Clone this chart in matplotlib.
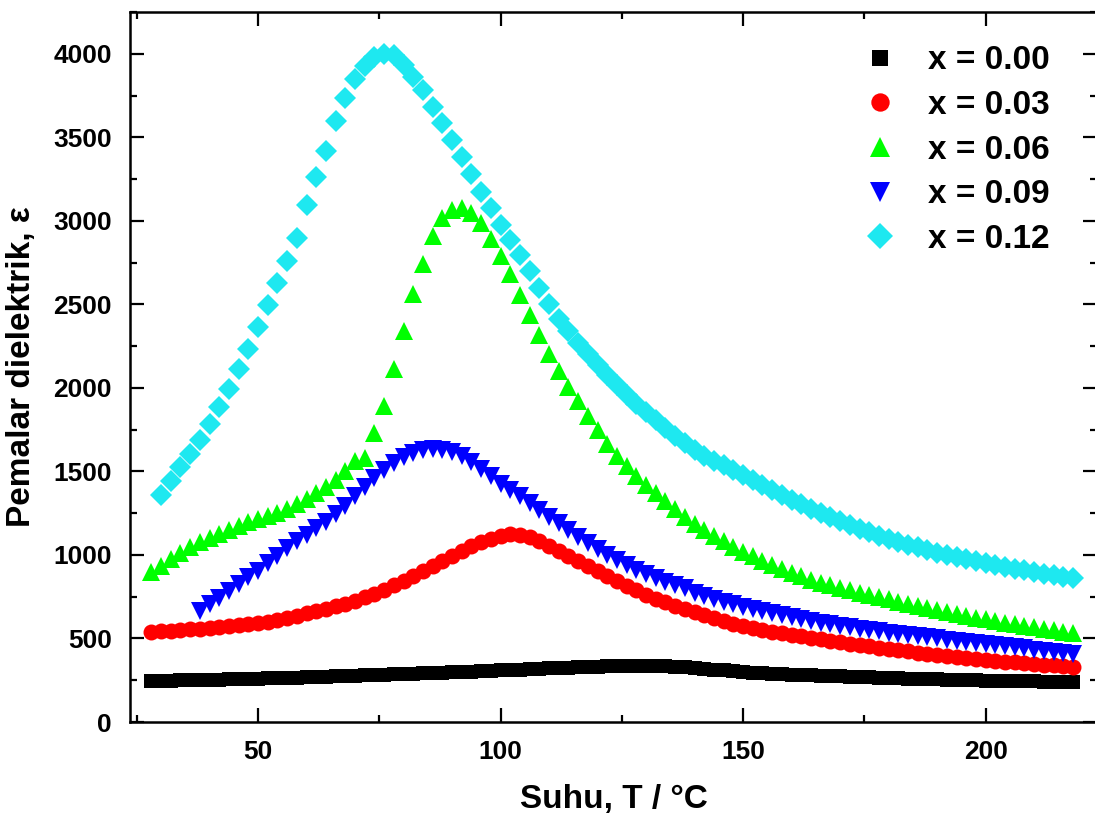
import matplotlib
matplotlib.use('Agg')
import matplotlib.pyplot as plt
from matplotlib.ticker import MultipleLocator

plt.rcParams['font.family'] = ['Liberation Sans', 'DejaVu Sans']
plt.rcParams['font.weight'] = 'bold'

# temperature (degC), 2 degree steps
temp = [28, 30, 32, 34, 36, 38, 40, 42, 44, 46, 48, 50, 52, 54, 56, 58,
        60, 62, 64, 66, 68, 70, 72, 74, 76, 78, 80, 82, 84, 86, 88, 90,
        92, 94, 96, 98, 100, 102, 104, 106, 108, 110, 112, 114, 116, 118, 120, 122,
        124, 126, 128, 130, 132, 134, 136, 138, 140, 142, 144, 146, 148, 150, 152, 154,
        156, 158, 160, 162, 164, 166, 168, 170, 172, 174, 176, 178, 180, 182, 184, 186,
        188, 190, 192, 194, 196, 198, 200, 202, 204, 206, 208, 210, 212, 214, 216, 218]

# x = 0.00
eps_000 = [246, 247, 248, 249, 250, 251, 252, 253, 255, 256, 258, 259, 261, 262, 264, 266,
           268, 269, 271, 273, 275, 277, 279, 281, 283, 285, 287, 289, 291, 293, 295, 298,
           300, 302, 304, 306, 309, 311, 313, 316, 318, 321, 323, 326, 328, 330, 332, 334,
           336, 337, 338, 338, 337, 335, 332, 328, 324, 319, 314, 309, 304, 300, 296, 293,
           290, 287, 284, 282, 280, 278, 276, 274, 272, 270, 268, 266, 264, 262, 260, 258,
           256, 255, 253, 252, 250, 249, 248, 247, 246, 245, 244, 243, 242, 241, 240, 240]

# x = 0.03
eps_003 = [540, 543, 546, 550, 554, 558, 562, 567, 572, 579, 585, 592, 601, 612, 624, 637,
           650, 664, 678, 693, 709, 725, 746, 769, 793, 818, 845, 873, 902, 933, 964, 995,
           1025, 1053, 1079, 1098, 1112, 1125, 1122, 1108, 1084, 1055, 1025, 995, 965, 935, 905, 875,
           845, 816, 788, 762, 738, 716, 695, 675, 656, 638, 621, 605, 589, 574, 563, 552,
           541, 531, 521, 512, 503, 494, 485, 477, 469, 461, 453, 445, 437, 430, 423, 416,
           409, 402, 396, 390, 384, 378, 372, 367, 362, 357, 352, 348, 344, 340, 336, 332]

# x = 0.06
eps_006 = [895, 935, 975, 1012, 1045, 1075, 1102, 1128, 1152, 1175, 1195, 1213, 1232, 1253, 1277, 1305,
           1337, 1370, 1408, 1450, 1500, 1560, 1580, 1730, 1890, 2110, 2340, 2560, 2740, 2910, 3015, 3065,
           3075, 3045, 2985, 2890, 2790, 2680, 2555, 2435, 2315, 2205, 2100, 2005, 1920, 1830, 1745, 1665,
           1595, 1535, 1475, 1420, 1370, 1322, 1275, 1230, 1188, 1150, 1115, 1082, 1050, 1020, 992, 965,
           940, 916, 893, 872, 852, 834, 818, 803, 788, 774, 760, 747, 734, 721, 708, 695,
           683, 671, 659, 647, 636, 625, 614, 604, 594, 584, 575, 566, 557, 548, 540, 532]

# x = 0.09 (starts at 38 degC)
temp_009 = temp[5:]
eps_009 = [665, 705, 745, 785, 825, 865, 905, 950, 995, 1040, 1082,
           1122, 1160, 1200, 1245, 1295, 1350, 1405, 1458, 1508, 1552, 1588, 1612, 1627, 1633, 1630, 1615,
           1590, 1556, 1514, 1470, 1427, 1388, 1350, 1310, 1270, 1230, 1190, 1150, 1110, 1072, 1036, 1002,
           970, 940, 912, 886, 862, 840, 819, 800, 770, 752, 736, 720, 705, 690, 677, 664,
           651, 638, 626, 615, 604, 594, 584, 575, 566, 558, 550, 542, 535, 528, 521, 514,
           507, 500, 493, 486, 479, 472, 466, 460, 454, 448, 442, 434, 427, 420, 413, 406]

# x = 0.12 (starts at 30 degC)
temp_012 = temp[1:]
eps_012 = [1360, 1445, 1525, 1605, 1690, 1785, 1885, 1995, 2110, 2235, 2365, 2495, 2630, 2760, 2900,
           3095, 3260, 3420, 3595, 3735, 3849, 3925, 3980, 4000, 3990, 3935, 3860, 3780, 3680, 3585, 3485,
           3380, 3280, 3175, 3075, 2975, 2885, 2795, 2700, 2600, 2500, 2410, 2340, 2270, 2200, 2135, 2075,
           2015, 1960, 1905, 1855, 1805, 1757, 1712, 1668, 1626, 1595, 1565, 1536, 1508, 1480, 1450, 1420,
           1390, 1360, 1330, 1302, 1276, 1250, 1226, 1203, 1180, 1158, 1137, 1116, 1096, 1078, 1061, 1045,
           1029, 1014, 1000, 987, 974, 962, 950, 939, 928, 917, 907, 897, 888, 879, 870, 861]

labels = ['x = 0.00', 'x = 0.03', 'x = 0.06', 'x = 0.09', 'x = 0.12']

fig = plt.figure(figsize=(10.95, 8.26), dpi=100)
ax = fig.add_axes([0.1187, 0.1259, 0.8833, 0.8596])

ax.plot(temp, eps_000, 's', color='black', ms=10.5, mew=0, label=labels[0])
ax.plot(temp, eps_003, 'o', color='#ff0000', ms=11.5, mew=0, label=labels[1])
ax.plot(temp, eps_006, '^', color='#00ff00', ms=12.5, mew=0, label=labels[2])
ax.plot(temp_009, eps_009, 'v', color='#0000ff', ms=12.5, mew=0, label=labels[3])
ax.plot(temp_012, eps_012, 'D', color='#1ee8f0', ms=11.5, mew=0, label=labels[4])

ax.set_xlim(23.6, 223)
ax.set_ylim(0, 4250)
ax.xaxis.set_major_locator(MultipleLocator(50))
ax.xaxis.set_minor_locator(MultipleLocator(25))
ax.yaxis.set_major_locator(MultipleLocator(500))
ax.yaxis.set_minor_locator(MultipleLocator(250))
ax.tick_params(which='both', direction='in', top=True, right=True, width=1.6)
ax.tick_params(which='major', length=10, labelsize=19, pad=13)
ax.tick_params(which='minor', length=5)
for s in ax.spines.values():
    s.set_linewidth(1.8)

ax.set_xlabel('Suhu, T / °C', fontsize=24, fontweight='bold', labelpad=14)
ax.set_ylabel('Pemalar dielektrik, ε', fontsize=24, fontweight='bold', labelpad=12)

ax.legend(loc='upper left', bbox_to_anchor=(863 / 1095, 0.945), bbox_transform=fig.transFigure,
          frameon=False, fontsize=24, numpoints=1, markerscale=1.15,
          handlelength=1.0, handletextpad=0.94, labelspacing=0.41, borderpad=0, borderaxespad=0)

fig.savefig('out.png', dpi=100)
